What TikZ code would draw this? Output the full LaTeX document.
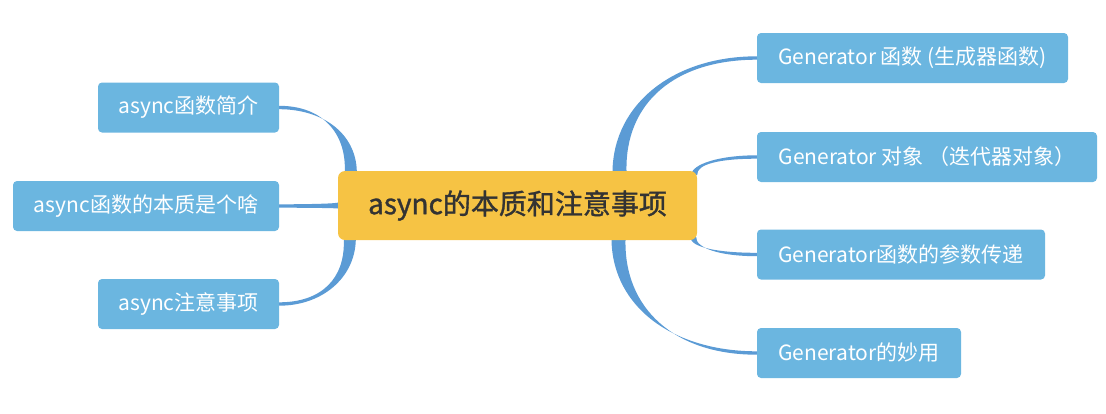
\documentclass[tikz,border=0pt]{standalone}
\usepackage{fontspec}
\setmainfont{Noto Sans CJK SC}
\newfontfamily\rootfont[FakeBold=1.2]{Noto Sans CJK SC}
\usetikzlibrary{calc,backgrounds}
\definecolor{leafblue}{HTML}{6BB6E0}
\definecolor{branchblue}{HTML}{5B9BD5}
\definecolor{rootyellow}{HTML}{F6C344}
\definecolor{roottext}{HTML}{333333}
\newcommand\branch[3]{%
  \coordinate (s) at (#1);
  \coordinate (e) at (#2);
  \coordinate (k) at (s |- e);
  \fill[branch] ($(s)+#3$) .. controls ($(s)!0.6!(k)+0.8*#3$) and ($(e)!0.6!(k)+(0,1.7)$) .. ($(e)+(0,1.7)$)
    -- ($(e)-(0,1.7)$) .. controls ($(e)!0.6!(k)-(0,1.7)$) and ($(s)!0.6!(k)-0.8*#3$) .. ($(s)-#3$) -- cycle;}

\begin{document}
\begin{tikzpicture}[x=1pt, y=-1pt,
  leaf/.style={fill=leafblue, text=white, rounded corners=4pt, minimum height=50pt, inner sep=0pt, font=\fontsize{21}{25}\selectfont},
  root/.style={fill=rootyellow, text=roottext, rounded corners=7pt, minimum width=359pt, minimum height=69pt, inner sep=0pt, font=\rootfont\fontsize{28}{32}\selectfont},
  branch/.style={fill=branchblue}]
\useasboundingbox (0,0) rectangle (1106,413);
\node[root] (c) at (517.5,205.5) {async的本质和注意事项};
\node[leaf, minimum width=181pt] (l1) at (188.5,107.5) {async函数简介};
\node[leaf, minimum width=266pt] (l2) at (146,206) {async函数的本质是个啥};
\node[leaf, minimum width=181pt] (l3) at (188.5,304) {async注意事项};
\node[leaf, minimum width=311pt] (r1) at (912.5,58) {Generator 函数 (生成器函数)};
\node[leaf, minimum width=340pt] (r2) at (927,157) {Generator 对象 （迭代器对象）};
\node[leaf, minimum width=288pt] (r3) at (901,254.5) {Generator函数的参数传递};
\node[leaf, minimum width=204pt] (r4) at (859,353) {Generator的妙用};
\begin{scope}[on background layer]
\branch{$(c.north west)+(13,0)$}{l1.east}{(6,0)}
\branch{c.west}{l2.east}{(0,3)}
\branch{$(c.south west)+(12,0)$}{l3.east}{(6,0)}
\branch{$(c.north)+(102,0)$}{r1.west}{(7,0)}
\branch{$(c.north east)+(-3,4)$}{r2.west}{(3,0)}
\branch{$(c.south east)+(-4,-3)$}{r3.west}{(3,0)}
\branch{$(c.south)+(101,0)$}{r4.west}{(7,0)}
\end{scope}
\end{tikzpicture}
\end{document}
